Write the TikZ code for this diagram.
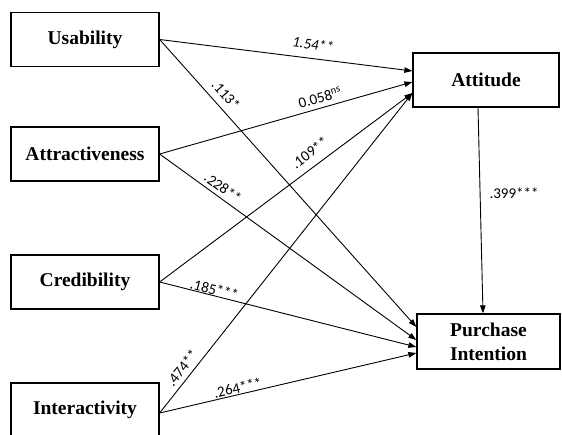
\documentclass[tikz,border=0pt]{standalone}
\usepackage{fontspec}
\setmainfont{Liberation Serif}
\newfontfamily\numfont{Carlito}
\usetikzlibrary{arrows.meta}
\begin{document}
\begin{tikzpicture}[x=1pt,y=-1pt,
  box/.style={draw, line width=1.3pt, minimum height=54pt, inner sep=0pt,
    font=\fontsize{19.5}{24}\selectfont\bfseries, align=center},
  conn/.style={line width=0.9pt, -{Triangle[length=8pt,width=5.5pt]}},
  lab/.style={font=\numfont\fontsize{15}{18}\selectfont, sloped, inner sep=0pt}]
\useasboundingbox (0,0) rectangle (562,434);
\clip (0,0) rectangle (562,434);
\fill[white] (0,0) rectangle (562,434);

\node[box, minimum width=148pt] (u) at (85,39.5) {Usability};
\node[box, minimum width=148pt] (a) at (85,154) {Attractiveness};
\node[box, minimum width=148pt] (c) at (85,282) {Credibility};
\node[box, minimum width=148pt] (i) at (85,410) {Interactivity};
\node[box, minimum width=146pt] (t) at (486,80) {Attitude};
\node[box, minimum width=143pt, minimum height=55pt] (p) at (488.5,341.5) {Purchase\\Intention};

\draw[conn] (u.east) -- node[lab,pos=0.6,above=8.5pt]{\itshape 1.54**} ([yshift=9pt]t.west);
\draw[conn] (u.east) -- node[lab,pos=0.222,above=7pt]{.113*} ([yshift=14.5pt]p.west);
\draw[conn] (a.east) -- node[lab,pos=0.646,above=4.5pt]{0.058\textsuperscript{ns}} ([yshift=-2pt]t.west);
\draw[conn] (a.east) -- node[lab,pos=0.224,above=4pt]{.228**} ([yshift=1.5pt]p.west);
\draw[conn] (c.east) -- node[lab,pos=0.626,above=8pt]{.109**} ([yshift=-13pt]t.west);
\draw[conn] (c.east) -- node[lab,pos=0.207,above=0.5pt]{.185***} ([yshift=-5.5pt]p.west);
\draw[conn] ([yshift=-3pt]i.east) -- node[lab,pos=0.121,above=4.5pt]{.474**} ([yshift=-13pt]t.west);
\draw[conn] ([yshift=-3pt]i.east) -- node[lab,pos=0.31,above=1pt]{.264***} ([yshift=-11.5pt]p.west);
\draw[conn] ([xshift=-8pt]t.south) -- node[pos=0.415,right=9pt,inner sep=0pt,font=\numfont\fontsize{15}{18}\selectfont]{.399***} ([xshift=-5.5pt]p.north);
\end{tikzpicture}
\end{document}
